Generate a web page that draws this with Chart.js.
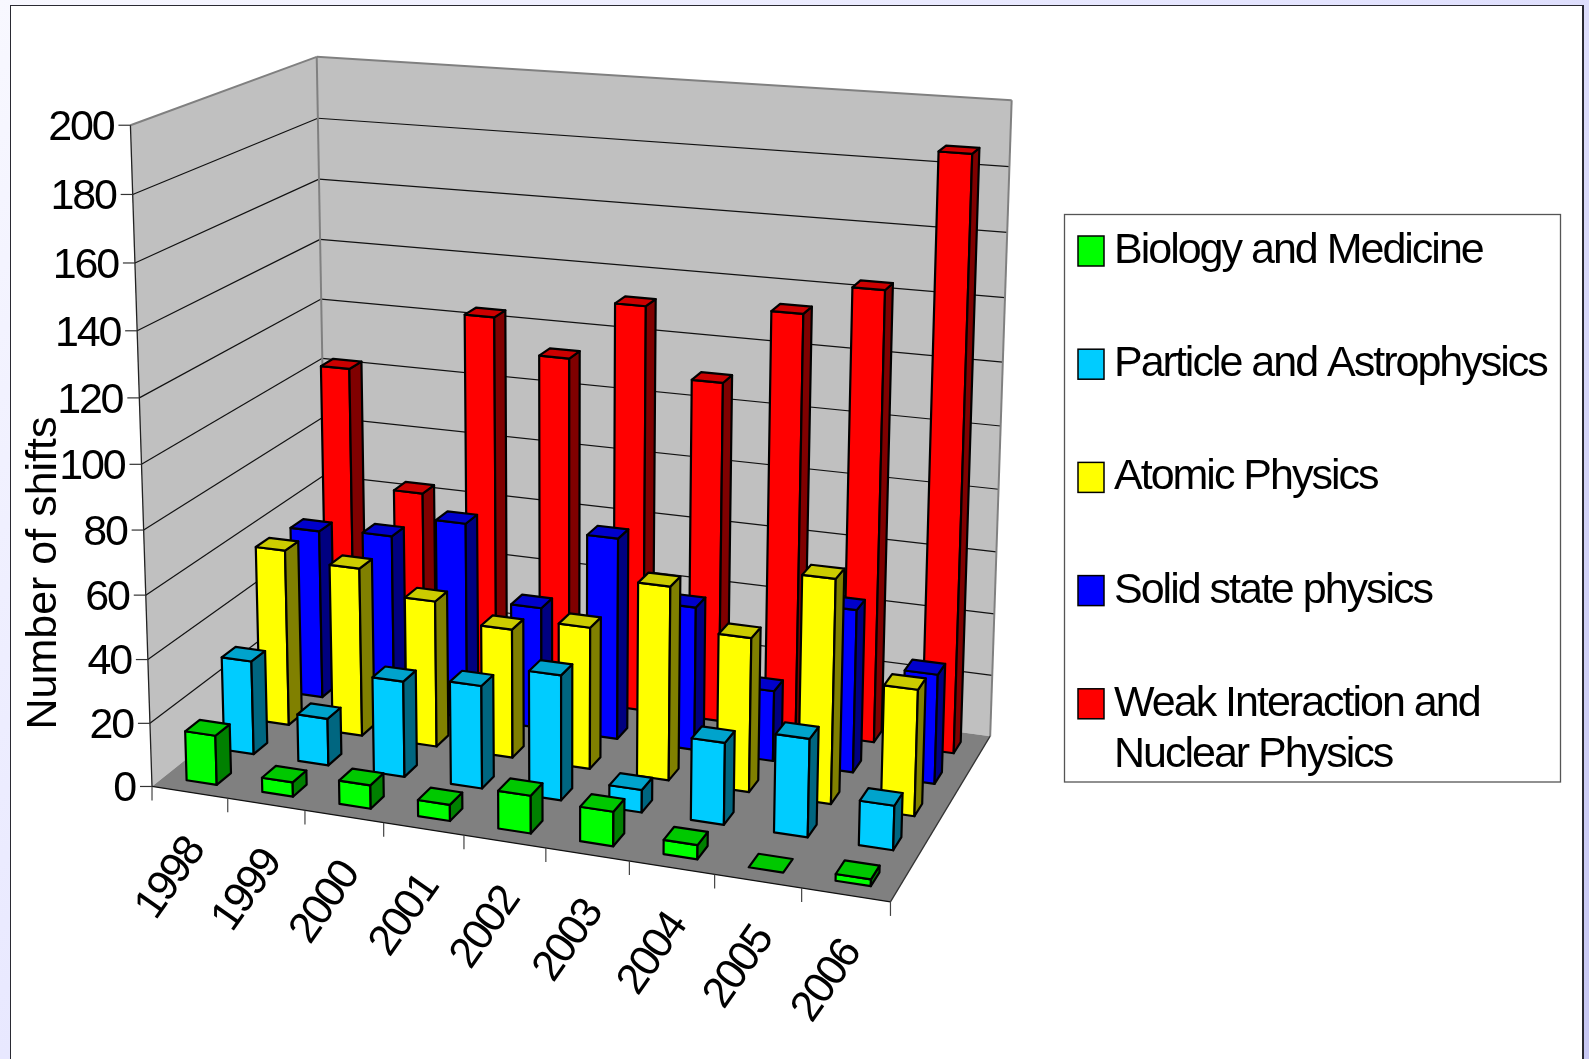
<!DOCTYPE html>
<html><head><meta charset="utf-8">
<style>
html,body{margin:0;padding:0;width:1589px;height:1059px;overflow:hidden;background:linear-gradient(135deg,#f8f8ff 0%,#e4e4ff 50%,#c8c8f4 100%);}
#frame{position:absolute;left:10px;top:5px;width:1574px;height:1060px;background:#fff;border-style:solid;border-color:#2a2a33;border-width:1.5px 2px 0 1.5px;box-sizing:border-box;}
canvas{position:absolute;left:0;top:0;}
</style>
<script src="https://cdn.jsdelivr.net/npm/chart.js@4"></script>
</head><body><div id="frame"></div><canvas id="c" width="1589" height="1059"></canvas>
<script>
const years=['1998','1999','2000','2001','2002','2003','2004','2005','2006'];
const biology=[15.6,4.5,7.3,5,11.6,10.5,4.3,0,2];
const particle=[30,15,30.3,32.3,39,7,25.2,30,13.5];
const atomic=[57.3,54.5,47,41.2,45,61,48.2,69.5,39];
const solid=[55.7,57,64,39.5,65,46,22.5,51.5,34.5];
const weak=[102.5,63.5,124,113,132,110,134,143.5,186.6];
const seriesNames=['Biology and Medicine','Particle and Astrophysics','Atomic Physics','Solid state physics','Weak Interaction and\nNuclear Physics'];
const seriesValues=[biology,particle,atomic,solid,weak];
const frontColors=['#00ff00','#00ccff','#ffff00','#0000ff','#ff0000'];
const sideColors=['#008000','#006680','#808000','#000080','#800000'];
const topColors=['#00c800','#00a3cc','#cccc00','#0000cc','#cc0000'];
const yTitle='Number of shifts';

// Camera calibration: known axis-box landmarks [u,v,w, px,py, weight]
const landmarks=[[0,0,0,151.7,786,3],[1,0,0,890.7,901.7,3],[0,1,0,130.5,125,3],[0,.9,0,133,196,1],[0,.8,0,135,262.3,1],[0,.4,0,143.3,531,1],[0,.1,0,150,724.3,1],
[0,1,1,316,56.7,3],[0,.9,1,317.7,119,1],[0,.8,1,319.3,179,1],[0,.6,1,321.7,298.3,1],[0,.5,1,324.3,358.3,1],
[1,1,1,1012,100.7,4],[1,.9,1,1009.3,165.7,1],[1,.8,1,1006.7,231.7,1],[1,.6,1,1002,360.7,1],[1,0,1,990,736.7,3]];
function fitCamera(pts){
  const n=11,A=Array.from({length:n},()=>new Array(n+1).fill(0));
  const add=(r,b,wt)=>{for(let i=0;i<n;i++){for(let j=0;j<n;j++)A[i][j]+=wt*r[i]*r[j];A[i][n]+=wt*r[i]*b;}};
  for(const [u,v,w,x,y,wt] of pts){
    add([u,v,w,1,0,0,0,0,-x*u,-x*v,-x*w],x,wt);
    add([0,0,0,0,u,v,w,1,-y*u,-y*v,-y*w],y,wt);
  }
  for(let c=0;c<n;c++){
    let m=c;for(let r=c+1;r<n;r++)if(Math.abs(A[r][c])>Math.abs(A[m][c]))m=r;
    [A[c],A[m]]=[A[m],A[c]];
    for(let r=0;r<n;r++){if(r===c)continue;const f=A[r][c]/A[c][c];for(let k=c;k<=n;k++)A[r][k]-=f*A[c][k];}
  }
  return A.map((row,i)=>row[n]/row[i]);
}
const P=fitCamera(landmarks);
const proj=(u,v,w)=>{const d=P[8]*u+P[9]*v+P[10]*w+1;return [(P[0]*u+P[1]*v+P[2]*w+P[3])/d,(P[4]*u+P[5]*v+P[6]*w+P[7])/d];};
const BAR_FRAC=0.40, DEPTH_FRAC=0.38, ROWS=seriesValues.length;

function poly(ctx,pts,fill,stroke,lw){
  ctx.beginPath();pts.forEach((p,i)=>i?ctx.lineTo(p[0],p[1]):ctx.moveTo(p[0],p[1]));ctx.closePath();
  if(fill){ctx.fillStyle=fill;ctx.fill();}
  if(stroke){ctx.strokeStyle=stroke;ctx.lineWidth=lw;ctx.lineJoin='round';ctx.stroke();}
}
function seg(ctx,a,b,color,lw){ctx.beginPath();ctx.moveTo(a[0],a[1]);ctx.lineTo(b[0],b[1]);ctx.strokeStyle=color;ctx.lineWidth=lw;ctx.stroke();}
const norm=(chart)=>{const xs=chart.scales.x,ys=chart.scales.y;return{
  u:i=>(xs.getPixelForValue(i)-xs.left)/xs.width,
  v:val=>(ys.bottom-ys.getPixelForValue(val))/ys.height};};

class Bar3DController extends Chart.BarController{
  draw(){
    const chart=this.chart,ctx=chart.ctx,meta=this.getMeta(),ds=this.getDataset(),n=norm(chart);
    const row=this.index,cats=chart.scales.x.getLabels().length;
    const hu=BAR_FRAC/cats/2,hw=DEPTH_FRAC/ROWS/2,wc=(row+.5)/ROWS;
    const w0=wc-hw,w1=wc+hw;
    meta.data.forEach((el,i)=>{
      const uc=n.u(i),u0=uc-hu,u1=uc+hu,v=n.v(this.getParsed(i).y);
      ctx.save();
      if(v>0){
        poly(ctx,[proj(u0,0,w0),proj(u1,0,w0),proj(u1,v,w0),proj(u0,v,w0)],ds.backgroundColor,'#000',2.2);
        poly(ctx,[proj(u1,0,w0),proj(u1,0,w1),proj(u1,v,w1),proj(u1,v,w0)],ds.sideColor,'#000',2.2);
      }
      poly(ctx,[proj(u0,v,w0),proj(u1,v,w0),proj(u1,v,w1),proj(u0,v,w1)],ds.topColor,'#000',2.2);
      ctx.restore();
    });
  }
}
Bar3DController.id='bar3d';
Bar3DController.defaults=Chart.BarController.defaults;
Bar3DController.overrides=Chart.BarController.overrides;
Chart.register(Bar3DController);

function spaced(ctx,sp){if('letterSpacing' in ctx)ctx.letterSpacing=sp+'px';}
const box3d={id:'box3d',beforeDatasetsDraw(chart){
  const ctx=chart.ctx,ys=chart.scales.y,xs=chart.scales.x,n=norm(chart);
  ctx.save();
  poly(ctx,[proj(0,0,0),proj(0,1,0),proj(0,1,1),proj(0,0,1)],'#c0c0c0');
  poly(ctx,[proj(0,0,1),proj(0,1,1),proj(1,1,1),proj(1,0,1)],'#c0c0c0');
  poly(ctx,[proj(0,0,0),proj(1,0,0),proj(1,0,1),proj(0,0,1)],'#808080');
  ys.ticks.forEach(t=>{
    const v=n.v(t.value);if(v<=0||v>=1)return;
    seg(ctx,proj(0,v,0),proj(0,v,1),'#111',1.2);
    seg(ctx,proj(0,v,1),proj(1,v,1),'#111',1.2);
  });
  seg(ctx,proj(0,1,0),proj(0,1,1),'#808080',2);
  seg(ctx,proj(0,1,1),proj(1,1,1),'#808080',2);
  seg(ctx,proj(0,0,1),proj(0,1,1),'#808080',2);
  seg(ctx,proj(1,0,1),proj(1,1,1),'#808080',2);
  seg(ctx,proj(0,0,0),proj(0,1,0),'#222',1.3);
  seg(ctx,proj(0,0,0),proj(1,0,0),'#111',1.3);
  seg(ctx,proj(1,0,0),proj(1,0,1),'#333',1.3);
  // value axis
  ctx.fillStyle='#000';ctx.font='43px "Liberation Sans"';ctx.textAlign='right';ctx.textBaseline='middle';spaced(ctx,-2.2);
  ys.ticks.forEach(t=>{
    const p=proj(0,n.v(t.value),0);
    seg(ctx,[p[0]-12,p[1]],p,'#333',1.2);
    ctx.fillStyle='#000';ctx.fillText(t.label,p[0]-17,p[1]+3);
  });
  // category axis
  const cats=xs.getLabels();
  for(let k=0;k<=cats.length;k++){const p=proj(k/cats.length,0,0);seg(ctx,p,[p[0],p[1]+14],'#444',1.2);}
  ctx.font='43px "Liberation Sans"';spaced(ctx,-2.2);
  cats.forEach((lab,i)=>{
    const p=proj(n.u(i),0,0);
    ctx.save();ctx.translate(p[0]+6,p[1]+51);ctx.rotate(-55*Math.PI/180);
    ctx.textAlign='right';ctx.textBaseline='middle';ctx.fillStyle='#000';ctx.fillText(lab,0,0);ctx.restore();
  });
  // axis title
  ctx.save();ctx.translate(44,573);ctx.rotate(-Math.PI/2);ctx.textAlign='center';ctx.textBaseline='middle';spaced(ctx,0);
  ctx.font='43px "Liberation Sans"';ctx.fillStyle='#000';ctx.fillText(chart.options.scales.y.title.text,0,0);ctx.restore();
  ctx.restore();
}};
const legend3d={id:'legend3d',afterDraw(chart){
  const ctx=chart.ctx;ctx.save();
  ctx.strokeStyle='#555';ctx.lineWidth=1.3;ctx.strokeRect(1064.5,214.5,496,567.5);
  ctx.font='43px "Liberation Sans"';ctx.textAlign='left';ctx.textBaseline='alphabetic';spaced(ctx,-2);
  chart.data.datasets.forEach((ds,i)=>{
    const top=236+113.2*i;
    ctx.fillStyle=ds.backgroundColor;ctx.fillRect(1078,top,26,30);
    ctx.strokeStyle='#000';ctx.lineWidth=1.5;ctx.strokeRect(1078,top,26,30);
    ctx.fillStyle='#000';
    ds.label.split('\n').forEach((ln,j)=>ctx.fillText(ln,1114,top+27+j*51));
  });
  ctx.restore();
}};
new Chart(document.getElementById('c'),{
  type:'bar3d',
  data:{labels:years,datasets:seriesNames.map((name,i)=>({label:name,data:seriesValues[i],backgroundColor:frontColors[i],sideColor:sideColors[i],topColor:topColors[i]}))},
  options:{responsive:false,animation:false,devicePixelRatio:1,layout:{padding:0},
    plugins:{legend:{display:false},tooltip:{enabled:false}},
    scales:{x:{type:'category',display:false},y:{type:'linear',min:0,max:200,display:false,ticks:{stepSize:20},title:{text:yTitle}}}},
  plugins:[box3d,legend3d]
});
</script></body></html>
